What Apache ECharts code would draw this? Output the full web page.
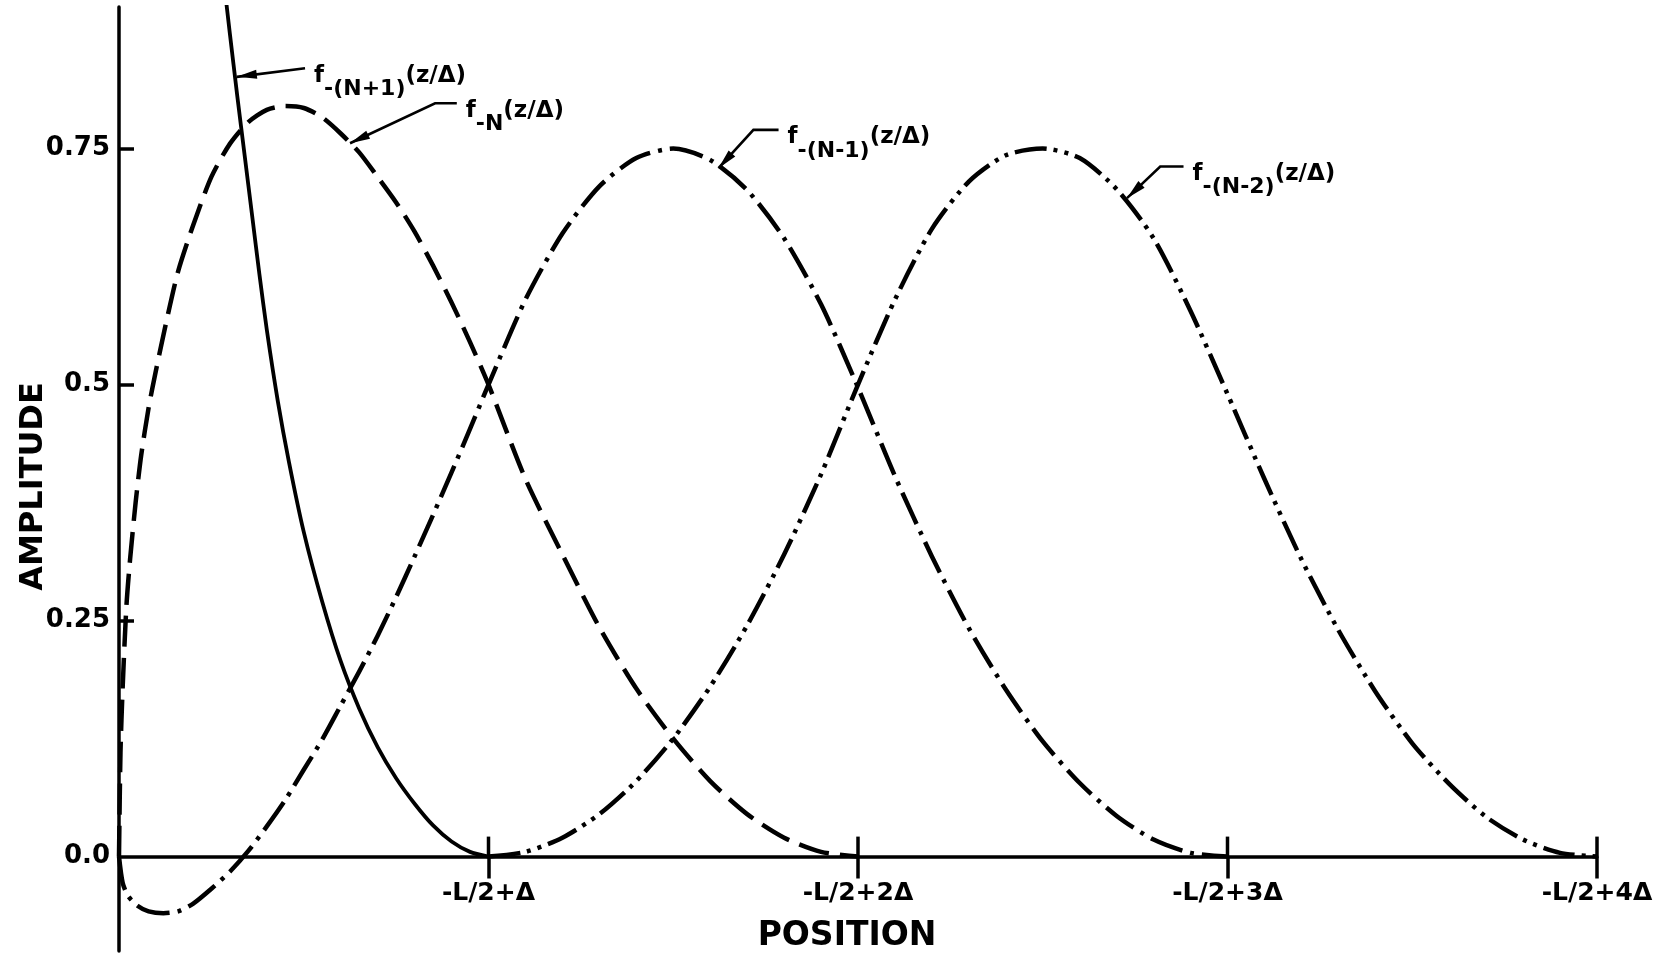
<!DOCTYPE html>
<html>
<head>
<meta charset="utf-8">
<script src="https://cdn.jsdelivr.net/npm/echarts@6/dist/echarts.min.js"></script>
<style>
  html, body { margin: 0; padding: 0; background: #ffffff; }
  #chart { width: 1680px; height: 957px; }
</style>
</head>
<body>
<div id="chart"></div>
<script>
// Position is measured in units of Δ from the end point z = -L/2.
// Each basis function is a list of [position, amplitude] pairs.
const fMinusNPlus1 = [
  [0.28, 0.94], [0.30, 0.872], [0.32, 0.806], [0.34, 0.743], [0.36, 0.68],
  [0.38, 0.617], [0.40, 0.558], [0.43, 0.482], [0.46, 0.418], [0.50, 0.344],
  [0.55, 0.27], [0.60, 0.207], [0.65, 0.157], [0.70, 0.116], [0.75, 0.083],
  [0.80, 0.056], [0.85, 0.033], [0.90, 0.016], [0.95, 0.005], [1.00, 0]
];

const fMinusN = [
  [0, 0], [0.004, 0.11], [0.01, 0.18], [0.02, 0.265], [0.03, 0.315],
  [0.045, 0.375], [0.06, 0.425], [0.08, 0.475], [0.10, 0.515], [0.13, 0.57],
  [0.16, 0.62], [0.20, 0.668], [0.25, 0.72], [0.30, 0.755], [0.35, 0.778],
  [0.40, 0.791], [0.45, 0.795], [0.50, 0.793], [0.55, 0.783], [0.60, 0.766],
  [0.65, 0.746], [0.70, 0.72], [0.75, 0.693], [0.80, 0.662], [0.85, 0.626],
  [0.90, 0.587], [0.95, 0.545], [1.00, 0.5], [1.10, 0.40], [1.20, 0.32],
  [1.30, 0.243], [1.40, 0.178], [1.50, 0.125], [1.60, 0.08], [1.70, 0.045],
  [1.80, 0.02], [1.90, 0.005], [2.00, 0]
];

const fMinusNMinus1 = [
  [0, 0], [0.01, -0.028], [0.025, -0.042], [0.05, -0.052], [0.08, -0.058],
  [0.12, -0.06], [0.16, -0.058], [0.20, -0.05], [0.25, -0.034], [0.30, -0.016],
  [0.35, 0.006], [0.40, 0.032], [0.45, 0.06], [0.50, 0.092], [0.55, 0.124],
  [0.60, 0.16], [0.65, 0.196], [0.70, 0.234], [0.75, 0.275], [0.80, 0.318],
  [0.85, 0.362], [0.90, 0.407], [0.95, 0.453], [1.00, 0.5], [1.10, 0.59],
  [1.20, 0.66], [1.30, 0.71], [1.40, 0.74], [1.50, 0.75], [1.60, 0.738],
  [1.70, 0.706], [1.80, 0.655], [1.90, 0.585], [2.00, 0.497], [2.10, 0.403],
  [2.20, 0.318], [2.30, 0.242], [2.40, 0.177], [2.50, 0.122], [2.60, 0.078],
  [2.70, 0.043], [2.80, 0.018], [2.90, 0.004], [3.00, 0]
];

const fMinusNMinus2 = [
  [1.00, 0], [1.10, 0.005], [1.20, 0.02], [1.30, 0.045], [1.40, 0.08],
  [1.50, 0.125], [1.60, 0.18], [1.70, 0.245], [1.80, 0.32], [1.90, 0.405],
  [2.00, 0.5], [2.10, 0.59], [2.20, 0.665], [2.30, 0.715], [2.40, 0.743],
  [2.50, 0.75], [2.60, 0.74], [2.70, 0.707], [2.80, 0.655], [2.90, 0.578],
  [3.00, 0.49], [3.10, 0.40], [3.20, 0.315], [3.30, 0.24], [3.40, 0.175],
  [3.50, 0.12], [3.60, 0.077], [3.70, 0.042], [3.80, 0.018], [3.90, 0.004],
  [4.00, 0]
];

const xTickValues = [1, 2, 3, 4];
const xTickLabels = ['-L/2+Δ', '-L/2+2Δ', '-L/2+3Δ', '-L/2+4Δ'];
const yTickValues = [0, 0.25, 0.5, 0.75];
const yTickLabels = ['0.0', '0.25', '0.5', '0.75'];

// Curve labels: subscript part of each function name.
const curveSubscripts = ['-(N+1)', '-N', '-(N-1)', '-(N-2)'];

// Leader lines for the curve labels: arrow tip on the curve, bend, and the
// end next to the text, all in data coordinates.
const leaders = [
  [0.319, 0.826, 0.5035, 0.8352, 0.5035, 0.8352],
  [0.6253, 0.7557, 0.8554, 0.798, 0.9142, 0.798],
  [1.6224, 0.7292, 1.717, 0.7698, 1.785, 0.7698],
  [2.728, 0.6975, 2.818, 0.731, 2.881, 0.731]
];

const FONT = 'DejaVu Sans';
const INK = '#000000';

// Plot frame: amplitude range and the pixel frame that holds it.
const Y_MIN = -0.1, Y_MAX = 0.9;
const GRID = { left: 119, right: 83, top: 7, bottom: 6 };
const CHART_H = 957;
// Lift the position axis from the frame bottom up to amplitude 0.
const plotH = CHART_H - GRID.top - GRID.bottom;
const zeroLift = -(0 - Y_MIN) / (Y_MAX - Y_MIN) * plotH;

const chart = echarts.init(document.getElementById('chart'), null, { renderer: 'canvas' });

const richLabel = {
  f: { fontFamily: FONT, fontWeight: 'bold', fontSize: 23, lineHeight: 26, verticalAlign: 'top', color: INK },
  s: { fontFamily: FONT, fontWeight: 'bold', fontSize: 22, lineHeight: 26, verticalAlign: 'top', padding: [14, 0, 0, 0], color: INK },
  p: { fontFamily: FONT, fontWeight: 'bold', fontSize: 23, lineHeight: 26, verticalAlign: 'top', color: INK }
};

function lineSeries(name, data, width, dash) {
  return {
    name: name,
    type: 'line',
    data: data,
    showSymbol: false,
    smooth: 0.25,
    clip: true,
    lineStyle: { color: INK, width: width, type: dash, cap: 'butt', join: 'round' },
    z: 3
  };
}

chart.setOption({
  backgroundColor: '#ffffff',
  animation: false,
  grid: Object.assign({ outerBoundsMode: 'none' }, GRID),
  xAxis: {
    type: 'value', min: 0, max: 4,
    position: 'bottom',
    offset: zeroLift,
    axisLine: { onZero: false, lineStyle: { color: INK, width: 3.5 } },
    axisTick: { show: true, customValues: xTickValues, length: 22, lineStyle: { color: INK, width: 3.5 } },
    axisLabel: {
      customValues: xTickValues,
      formatter: v => xTickLabels[xTickValues.indexOf(Number(v))] || '',
      margin: 24, color: INK, fontFamily: FONT, fontWeight: 'bold', fontSize: 25
    },
    splitLine: { show: false },
    name: 'POSITION', nameLocation: 'middle', nameGap: 63, nameMoveOverlap: false,
    nameTextStyle: { color: INK, fontFamily: FONT, fontWeight: 'bold', fontSize: 33, padding: [0, 22, 0, 0] }
  },
  yAxis: {
    type: 'value', min: Y_MIN, max: Y_MAX,
    axisLine: { show: true, lineStyle: { color: INK, width: 3.5 } },
    axisTick: { show: true, inside: true, customValues: [0.25, 0.5, 0.75], length: 15, lineStyle: { color: INK, width: 3.5 } },
    axisLabel: {
      customValues: yTickValues,
      formatter: v => yTickLabels[yTickValues.indexOf(Number(v))] || '',
      margin: 9, color: INK, fontFamily: FONT, fontWeight: 'bold', fontSize: 26
    },
    splitLine: { show: false },
    name: 'AMPLITUDE', nameLocation: 'middle', nameGap: 69, nameRotate: 90, nameMoveOverlap: false,
    nameTextStyle: { color: INK, fontFamily: FONT, fontWeight: 'bold', fontSize: 32, padding: [0, 15, 0, 0] }
  },
  series: [
    lineSeries('f-(N+1)', fMinusNPlus1, 3.8, 'solid'),
    lineSeries('f-N', fMinusN, 4.5, [31, 11]),
    lineSeries('f-(N-1)', fMinusNMinus1, 4.5, [34, 8, 4, 8]),
    lineSeries('f-(N-2)', fMinusNMinus2, 4.5, [32, 7, 4, 7, 4, 7]),
    {
      // upper half of the ticks that cross the position axis
      name: 'tick tops',
      type: 'custom',
      clip: false,
      z: 4,
      data: xTickValues,
      renderItem: function (params, api) {
        const p = api.coord([api.value(0), 0]);
        return {
          type: 'line',
          shape: { x1: p[0], y1: p[1], x2: p[0], y2: p[1] - 20 },
          style: { stroke: INK, lineWidth: 3.5 }
        };
      }
    },
    {
      name: 'labels',
      type: 'custom',
      clip: false,
      z: 5,
      data: leaders,
      renderItem: function (params, api) {
        const tip = api.coord([api.value(0), api.value(1)]);
        const bend = api.coord([api.value(2), api.value(3)]);
        const end = api.coord([api.value(4), api.value(5)]);
        const dx = tip[0] - bend[0];
        const dy = tip[1] - bend[1];
        const len = Math.hypot(dx, dy) || 1;
        const ux = dx / len, uy = dy / len;
        const headLen = 20, headHalf = 4.5;
        const base = [tip[0] - ux * headLen, tip[1] - uy * headLen];
        const px = -uy, py = ux;
        return {
          type: 'group',
          children: [
            {
              type: 'polyline',
              shape: { points: [tip, bend, end] },
              style: { stroke: INK, lineWidth: 2.6, fill: null }
            },
            {
              type: 'polygon',
              shape: { points: [tip, [base[0] + px * headHalf, base[1] + py * headHalf], [base[0] - px * headHalf, base[1] - py * headHalf]] },
              style: { fill: INK }
            },
            {
              type: 'text',
              x: end[0] + 9,
              y: end[1] + 9,
              style: {
                text: '{f|f}{s|' + curveSubscripts[params.dataIndex] + '}{p|(z/Δ)}',
                rich: richLabel,
                verticalAlign: 'middle',
                align: 'left'
              }
            }
          ]
        };
      }
    }
  ]
});
</script>
</body>
</html>
